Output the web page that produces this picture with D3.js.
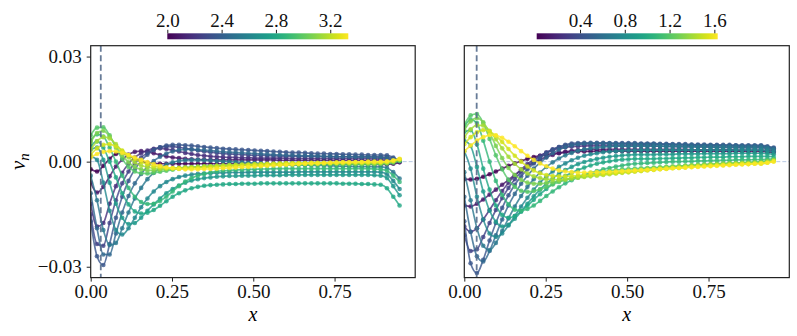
<!DOCTYPE html>
<html>
<head>
<meta charset="utf-8">
<script src="https://cdn.jsdelivr.net/npm/d3@7"></script>
<style>
  body { margin: 0; background: #fff; }
  #chart text { font-family: "Liberation Serif", "Times New Roman", serif !important; }
</style>
</head>
<body>
<svg id="chart" width="797" height="336"></svg>
<script>
// sample positions along x (shared by every curve)
const xGrid = [0, 0.0194, 0.0388, 0.0582, 0.0776, 0.0969, 0.1163, 0.1357, 0.1551, 0.1745,
  0.1939, 0.2133, 0.2327, 0.2520, 0.2714, 0.2908, 0.3102, 0.3296, 0.3490, 0.3684,
  0.3878, 0.4071, 0.4265, 0.4459, 0.4653, 0.4847, 0.5041, 0.5235, 0.5429, 0.5622,
  0.5816, 0.6010, 0.6204, 0.6398, 0.6592, 0.6786, 0.6980, 0.7173, 0.7367, 0.7561,
  0.7755, 0.7949, 0.8143, 0.8337, 0.8531, 0.8724, 0.8918, 0.9112, 0.9306, 0.9500];

// colour parameter of each curve
const leftParams = [2.000, 2.089, 2.178, 2.267, 2.355, 2.444, 2.533, 2.622, 2.711, 2.800, 2.889, 2.978, 3.066, 3.155, 3.244, 3.333];
const rightParams = [0.013, 0.121, 0.229, 0.336, 0.444, 0.552, 0.660, 0.768, 0.875, 0.983, 1.091, 1.199, 1.307, 1.414, 1.522, 1.630];

const leftBarDomain = [2.0, 3.333];
const rightBarDomain = [0.013, 1.63];
const leftBarTicks = [2.0, 2.4, 2.8, 3.2];
const rightBarTicks = [0.4, 0.8, 1.2, 1.6];
const xTicks = [0, 0.25, 0.5, 0.75];
const yTicks = [-0.03, 0, 0.03];
const leftMark = 0.031, rightMark = 0.038;

// v_n values, in units of 1e-4
const leftSeries = [
  [-22,-28,-12,8,22,24,17,8,1,-3, -5,-6,-6,-6,-6,-6,-6,-6,-6,-6, -6,-6,-6,-6,-7,-7,-7,-7,-7,-7, -7,-7,-7,-7,-7,-7,-7,-7,-7,-7, -7,-7,-7,-7,-8,-8,-8,-8,-6,-2],
  [-60,-88,-72,-42,-14,6,20,28,30,28, 24,19,15,12,10,8,7,6,6,5, 5,5,5,5,5,5,5,5,5,5, 4,4,4,4,4,4,4,4,4,4, 4,4,4,4,4,4,4,3,2,0],
  [-120,-185,-175,-120,-70,-32,-6,12,24,32, 37,38,36,33,29,25,22,19,17,15, 14,13,12,12,11,11,10,10,10,10, 10,10,9,9,9,9,9,9,9,9, 9,9,9,9,9,8,8,8,5,1],
  [-150,-235,-240,-175,-110,-62,-28,-5,12,25, 35,41,43,43,41,38,35,32,29,27, 25,23,22,21,20,19,18,18,17,17, 16,16,16,15,15,15,15,14,14,14, 14,14,14,14,14,14,13,13,9,2],
  [-170,-270,-295,-235,-160,-100,-55,-22,2,20, 33,41,46,48,48,47,46,44,42,40, 39,37,36,35,34,33,32,31,30,29, 28,27,26,26,25,24,23,23,22,22, 21,21,20,20,19,19,19,18,12,3],
  [-90,-190,-265,-265,-205,-145,-98,-62,-35,-14, 2,14,23,29,33,35,35,34,33,31, 30,28,27,26,25,24,23,22,21,20, 19,18,18,17,17,16,16,15,15,14, 14,14,13,13,13,12,12,11,7,1],
  [-40,-110,-195,-238,-232,-190,-145,-105,-75,-50, -32,-18,-8,-2,2,4,5,5,4,3, 2,1,0,-1,-2,-3,-4,-5,-6,-7, -8,-8,-9,-9,-10,-10,-11,-11,-12,-12, -13,-13,-14,-14,-14,-15,-15,-18,-30,-48],
  [15,5,-60,-140,-195,-208,-190,-160,-130,-105, -85,-70,-58,-50,-44,-40,-37,-35,-34,-33, -32,-32,-31,-31,-31,-30,-30,-30,-30,-30, -30,-30,-30,-29,-29,-29,-29,-29,-29,-29, -29,-29,-29,-29,-29,-29,-30,-36,-55,-78],
  [35,40,5,-60,-120,-160,-178,-175,-160,-140, -122,-105,-90,-78,-68,-60,-54,-50,-47,-45, -43,-42,-41,-41,-40,-40,-40,-39,-39,-39, -39,-38,-38,-38,-38,-38,-38,-38,-38,-38, -38,-38,-38,-38,-38,-39,-40,-47,-70,-96],
  [45,58,40,0,-45,-90,-122,-142,-148,-146, -138,-126,-113,-100,-90,-82,-76,-72,-69,-67, -66,-65,-64,-64,-63,-63,-63,-62,-62,-62, -62,-62,-62,-62,-62,-62,-62,-62,-62,-62, -63,-63,-63,-64,-64,-65,-66,-76,-100,-125],
  [60,78,72,40,0,-40,-75,-100,-115,-121, -120,-112,-100,-85,-70,-57,-47,-40,-35,-31, -28,-26,-25,-24,-23,-22,-22,-21,-21,-20, -20,-20,-20,-20,-20,-20,-20,-20,-20,-20, -20,-20,-20,-20,-20,-21,-22,-26,-40,-58],
  [75,97,98,75,40,8,-15,-28,-33,-34, -32,-29,-26,-23,-20,-18,-16,-15,-14,-13, -12,-12,-11,-11,-10,-10,-10,-10,-10,-9, -9,-9,-9,-9,-9,-9,-9,-8,-8,-8, -8,-8,-8,-8,-8,-8,-7,-6,-3,2],
  [55,82,88,72,45,18,-2,-15,-22,-25, -25,-24,-22,-20,-18,-17,-16,-15,-14,-13, -12,-11,-10,-10,-9,-9,-8,-8,-8,-7, -7,-7,-7,-7,-6,-6,-6,-6,-6,-6, -6,-6,-6,-6,-6,-6,-5,-4,0,5],
  [35,58,70,66,50,30,12,-2,-11,-16, -19,-20,-20,-19,-18,-17,-16,-15,-14,-13, -12,-11,-10,-9,-8,-8,-7,-7,-6,-6, -5,-5,-5,-5,-5,-4,-4,-4,-4,-4, -4,-4,-4,-4,-4,-4,-3,-2,1,6],
  [20,38,48,50,43,32,19,8,-1,-8, -13,-16,-18,-19,-19,-19,-18,-18,-17,-16, -15,-14,-13,-12,-11,-10,-9,-8,-7,-6, -6,-5,-5,-4,-4,-3,-3,-3,-3,-2, -2,-2,-2,-2,-2,-2,-2,-1,2,7],
  [12,22,28,30,29,25,19,12,5,-1, -7,-12,-16,-19,-21,-22,-22,-22,-21,-21, -20,-19,-18,-17,-16,-15,-14,-13,-12,-11, -10,-9,-8,-7,-6,-5,-5,-4,-3,-3, -2,-2,-1,-1,0,0,0,1,4,8]
];

const rightSeries = [
  [-50,-51,-49,-43,-36,-28,-20,-12,-5,2, 8,13,17,20,23,25,27,28,29,29, 29,30,30,30,30,30,30,30,30,30, 30,30,30,30,30,30,30,30,30,30, 30,30,30,30,30,29,29,29,28,26],
  [-125,-128,-120,-108,-94,-80,-66,-52,-38,-25, -13,-3,6,13,19,24,28,31,33,34, 35,35,35,35,35,35,35,35,35,35, 35,35,35,35,35,35,34,34,34,34, 34,34,34,33,33,33,33,33,32,30],
  [-185,-200,-190,-165,-138,-110,-84,-60,-40,-22, -7,6,17,26,33,38,41,43,44,45, 45,45,45,45,45,45,45,45,45,45, 45,44,44,44,43,43,43,42,42,42, 41,41,41,40,40,40,40,40,38,35],
  [-210,-255,-250,-215,-175,-138,-104,-75,-50,-30, -13,2,15,26,35,42,46,49,50,51, 51,51,51,51,51,51,50,50,50,50, 50,49,49,48,48,47,47,47,46,46, 46,45,45,45,44,44,44,44,41,38],
  [-170,-290,-318,-280,-225,-175,-132,-96,-66,-42, -22,-5,10,23,34,42,48,52,53,54, 54,54,54,53,53,53,53,53,52,52, 52,51,51,50,50,50,49,49,49,48, 48,48,48,47,47,47,47,47,44,40],
  [-100,-200,-270,-285,-255,-210,-165,-125,-92,-63, -40,-20,-3,12,24,34,41,46,49,51, 52,52,52,52,51,51,51,51,50,50, 50,49,49,49,48,48,48,47,47,47, 46,46,46,46,45,45,45,45,42,38],
  [-30,-110,-190,-240,-252,-232,-198,-162,-128,-98, -72,-50,-31,-15,-2,9,18,25,31,35, 38,40,42,43,44,44,44,44,44,44, 44,44,43,43,43,42,42,42,42,41, 41,41,41,40,40,40,40,40,38,34],
  [30,-20,-100,-165,-205,-215,-205,-182,-155,-128, -103,-80,-60,-43,-28,-15,-5,4,11,17, 21,24,27,29,30,31,32,32,33,33, 33,33,33,33,33,33,33,33,33,33, 33,33,33,33,33,33,33,33,31,28],
  [60,45,-15,-85,-140,-172,-185,-180,-163,-142, -120,-99,-80,-63,-48,-35,-24,-15,-7,-1, 4,8,11,14,16,18,19,20,20,20, 20,21,21,21,22,22,22,22,23,23, 23,23,23,24,24,24,24,24,23,21],
  [85,90,50,-20,-80,-125,-152,-160,-155,-142, -126,-109,-93,-78,-64,-52,-41,-32,-24,-17, -11,-6,-2,1,4,6,7,8,8,8, 8,9,9,10,10,11,11,12,12,13, 13,13,14,14,14,15,15,15,15,14],
  [100,120,110,60,0,-55,-95,-122,-137,-140, -135,-125,-112,-98,-85,-73,-62,-53,-45,-38, -32,-27,-22,-18,-14,-11,-8,-6,-5,-4, -3,-2,-1,0,0,1,1,2,2,3, 3,4,4,5,5,5,6,6,7,8],
  [105,132,136,110,65,18,-22,-52,-72,-83, -86,-84,-79,-72,-65,-58,-52,-47,-42,-38, -34,-31,-28,-26,-24,-22,-21,-20,-19,-18, -17,-16,-15,-14,-13,-12,-11,-10,-9,-8, -7,-6,-5,-4,-3,-2,-1,0,3,6],
  [90,115,124,112,82,45,10,-18,-38,-52, -60,-63,-63,-61,-58,-55,-52,-48,-45,-42, -39,-36,-34,-32,-30,-28,-26,-24,-22,-20, -18,-17,-15,-14,-13,-11,-10,-9,-8,-7, -6,-5,-4,-4,-3,-3,-2,-2,1,5],
  [70,92,104,103,88,64,38,14,-6,-22, -34,-42,-47,-50,-51,-51,-50,-48,-46,-44, -42,-40,-38,-36,-34,-32,-30,-28,-26,-24, -22,-20,-19,-17,-16,-14,-13,-12,-11,-10, -9,-8,-7,-6,-5,-5,-4,-4,-1,3],
  [50,70,84,90,86,74,56,36,17,0, -14,-25,-33,-38,-41,-42,-42,-41,-40,-39, -38,-37,-36,-34,-33,-31,-30,-28,-27,-25, -24,-22,-21,-19,-18,-17,-15,-14,-13,-12, -11,-10,-9,-8,-7,-7,-6,-6,-3,1],
  [30,46,60,70,76,75,68,57,44,30, 17,5,-5,-13,-20,-25,-28,-30,-31,-31, -31,-30,-30,-29,-28,-27,-26,-25,-24,-23, -22,-21,-20,-19,-18,-17,-16,-15,-14,-13, -12,-11,-10,-9,-8,-7,-6,-5,-3,0]
];

const svg = d3.select("#chart");
const defs = svg.append("defs");

const yScale = d3.scaleLinear().domain([-0.0331, 0.0331]).range([277.6, 45.7]);
const plotTop = 45.7, plotBottom = 277.6;

function styleAxis(a, size) {
  a.select(".domain").remove();
  a.attr("font-family", null);
  a.selectAll("line").attr("stroke", "#222");
  a.selectAll("text").style("font-size", size + "px").attr("fill", "#111");
}

function drawPanel(id, xRange, series, params, barDomain, barTicks, barRange, markX, showY) {
  const x = d3.scaleLinear().domain([0, 0.998]).range(xRange);
  const color = d3.scaleSequential(d3.interpolateViridis).domain(barDomain);
  const g = svg.append("g");

  defs.append("clipPath").attr("id", "clip-" + id)
    .append("rect").attr("x", xRange[0]).attr("y", plotTop)
    .attr("width", xRange[1] - xRange[0]).attr("height", plotBottom - plotTop);

  const plot = g.append("g").attr("clip-path", "url(#clip-" + id + ")");

  // zero reference line
  plot.append("line")
    .attr("x1", xRange[0]).attr("x2", xRange[1])
    .attr("y1", yScale(0)).attr("y2", yScale(0))
    .attr("stroke", "#b9c9e4").attr("stroke-width", 1)
    .attr("stroke-dasharray", "4,2");

  const line = d3.line()
    .x((d, i) => x(xGrid[i]))
    .y(d => yScale(d * 1e-4))
    .curve(d3.curveMonotoneX);

  series.forEach((vals, k) => {
    const c = color(params[k]);
    const s = plot.append("g");
    s.append("path")
      .attr("d", line(vals))
      .attr("fill", "none")
      .attr("stroke", c)
      .attr("stroke-width", 1.7)
      .attr("stroke-opacity", 0.8);
    s.selectAll("circle").data(vals).enter().append("circle")
      .attr("cx", (d, i) => x(xGrid[i]))
      .attr("cy", d => yScale(d * 1e-4))
      .attr("r", 2.3)
      .attr("fill", c)
      .attr("fill-opacity", 0.8);
  });

  // vertical dashed marker
  plot.append("line")
    .attr("x1", x(markX)).attr("x2", x(markX))
    .attr("y1", plotTop).attr("y2", plotBottom)
    .attr("stroke", "#566d8c").attr("stroke-width", 1.8)
    .attr("stroke-dasharray", "6,3.5").attr("stroke-opacity", 0.9);

  // frame
  g.append("rect")
    .attr("x", xRange[0]).attr("y", plotTop)
    .attr("width", xRange[1] - xRange[0]).attr("height", plotBottom - plotTop)
    .attr("fill", "none").attr("stroke", "#222").attr("stroke-width", 1.2);

  // x axis
  const xa = g.append("g").attr("transform", `translate(0,${plotBottom})`)
    .call(d3.axisBottom(x).tickValues(xTicks).tickFormat(d3.format(".2f")).tickSize(4).tickPadding(3));
  styleAxis(xa, 19);

  g.append("text")
    .attr("x", (xRange[0] + xRange[1]) / 2).attr("y", 321)
    .attr("text-anchor", "middle")
    .style("font-size", "20px").style("font-style", "italic")
    .text("x");

  if (showY) {
    const ya = g.append("g").attr("transform", `translate(${xRange[0]},0)`)
      .call(d3.axisLeft(yScale).tickValues(yTicks)
        .tickFormat(d => d === 0 ? "0.00" : d3.format(".2f")(d).replace("-", "\u2212"))
        .tickSize(4).tickPadding(5));
    styleAxis(ya, 19);

    const lab = g.append("text")
      .attr("transform", `translate(25,${yScale(0)}) rotate(-90)`)
      .attr("text-anchor", "middle")
      .style("font-size", "21px").style("font-style", "italic");
    lab.append("tspan").text("v");
    lab.append("tspan").style("font-size", "15px").attr("dy", 4).text("n");
  }

  // colour bar
  const cb = d3.scaleLinear().domain(barDomain).range(barRange);
  const gradId = "grad-" + id;
  const grad = defs.append("linearGradient").attr("id", gradId);
  d3.range(0, 1.0001, 0.05).forEach(t => {
    grad.append("stop").attr("offset", t).attr("stop-color", d3.interpolateViridis(t));
  });
  g.append("rect")
    .attr("x", barRange[0]).attr("y", 33.3)
    .attr("width", barRange[1] - barRange[0]).attr("height", 6)
    .attr("fill", `url(#${gradId})`);
  const ca = g.append("g").attr("transform", "translate(0,33.3)")
    .call(d3.axisTop(cb).tickValues(barTicks).tickFormat(d3.format(".1f")).tickSize(3.5).tickPadding(3));
  styleAxis(ca, 19);
}

drawPanel("L", [90.7, 415.2], leftSeries, leftParams, leftBarDomain, leftBarTicks, [167.3, 348.3], leftMark, true);
drawPanel("R", [464.3, 789.3], rightSeries, rightParams, rightBarDomain, rightBarTicks, [536.7, 717.7], rightMark, false);
</script>
</body>
</html>
